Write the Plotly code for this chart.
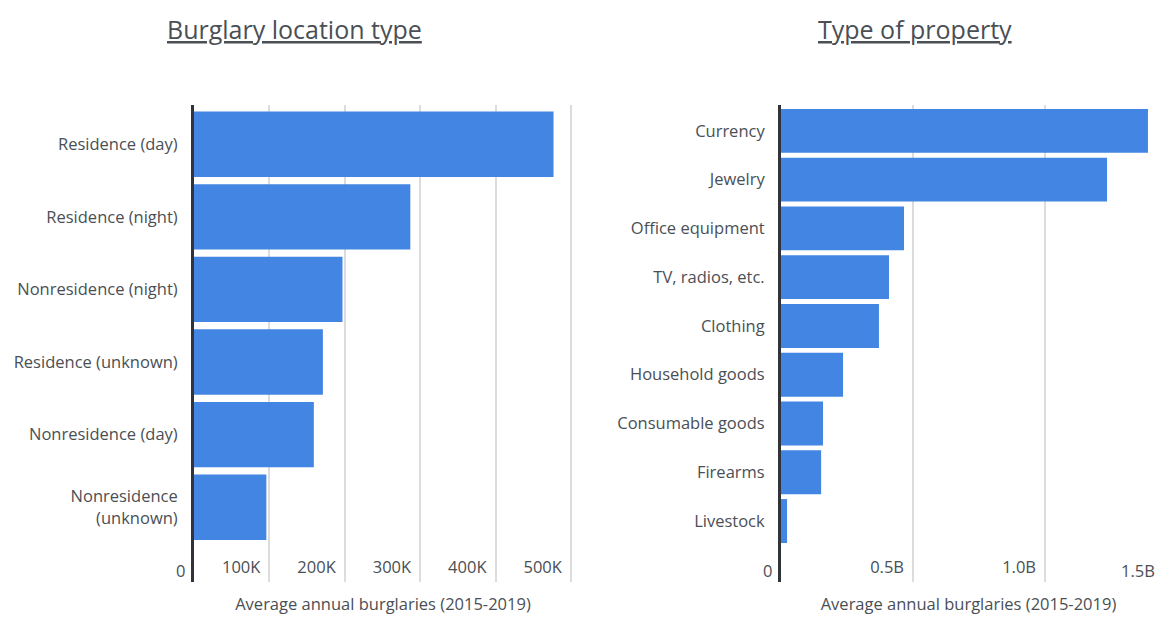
import plotly.graph_objects as go

loc_categories = ["Residence (day)", "Residence (night)", "Nonresidence (night)",
                  "Residence (unknown)", "Nonresidence (day)", "Nonresidence<br>(unknown)"]
loc_values = [477000, 287000, 197000, 171000, 159000, 96000]
loc_tickvals = [0, 100000, 200000, 300000, 400000, 500000]
loc_ticktext = ["0", "100K", "200K", "300K", "400K", "500K"]

prop_categories = ["Currency", "Jewelry", "Office equipment", "TV, radios, etc.", "Clothing",
                   "Household goods", "Consumable goods", "Firearms", "Livestock"]
prop_values = [1.39e9, 1.235e9, 0.466e9, 0.409e9, 0.371e9, 0.235e9, 0.159e9, 0.152e9, 0.023e9]
prop_tickvals = [0, 0.5e9, 1.0e9, 1.5e9]
prop_ticktext = ["0", "0.5B", "1.0B", "1.5B"]

titles = ["Burglary location type", "Type of property"]
x_title = "Average annual burglaries (2015-2019)"

OFF = 8  # page body margin
W, H = 1164 - 2 * OFF, 639 - 2 * OFF
BLUE = "#4285e2"
TXT = "#4a4f55"
FONT = "Open Sans"


def px(x):
    return (x - OFF) / W


def py(y):
    return 1 - (y - OFF) / H


fig = go.Figure()
fig.add_trace(go.Bar(x=loc_values, y=list(range(len(loc_values))), orientation="h",
                     marker=dict(color=BLUE, line=dict(width=0)), xaxis="x", yaxis="y",
                     hoverinfo="x"))
fig.add_trace(go.Bar(x=prop_values, y=list(range(len(prop_values))), orientation="h",
                     marker=dict(color=BLUE, line=dict(width=0)), xaxis="x2", yaxis="y2",
                     hoverinfo="x"))

y0, y1 = py(582), py(105)

common_x = dict(showgrid=True, gridcolor="#dcdcdc", gridwidth=1.5, zeroline=False,
                showline=False, ticks="", ticklabelposition="inside left", ticklabelshift=-9,
                tickfont=dict(family=FONT, size=16.5, color=TXT),
                title=dict(text=x_title, font=dict(family=FONT, size=16.5, color=TXT), standoff=21))
common_y = dict(showgrid=False, zeroline=False, showline=True, linecolor="#30343a", linewidth=3,
                ticks="outside", ticklen=10, tickcolor="rgba(0,0,0,0)",
                tickfont=dict(family=FONT, size=16.5, color=TXT), domain=[y0, y1])

# right panel: 264 px per billion, axis at x=781, panel ends at the figure's right edge
right_px = OFF + W
prop_range_max = (right_px - 781) / 264 * 1e9

fig.update_layout(
    width=W, height=H, margin=dict(l=0, r=0, t=0, b=0),
    paper_bgcolor="white", plot_bgcolor="white", showlegend=False, bargap=0.1,
    xaxis=dict(common_x, domain=[px(194), px(572)], range=[0, 501500],
               tickvals=loc_tickvals, ticktext=loc_ticktext, anchor="y"),
    yaxis=dict(common_y, anchor="x", tickvals=list(range(len(loc_categories))),
               ticktext=loc_categories, range=[5.5 + 0.53, -0.5 - 0.04]),
    xaxis2=dict(common_x, domain=[px(781), 1.0], range=[0, prop_range_max],
                tickvals=prop_tickvals, ticktext=prop_ticktext, anchor="y2"),
    yaxis2=dict(common_y, anchor="x2", tickvals=list(range(len(prop_categories))),
                ticktext=prop_categories, range=[8.5 + 0.75, -0.5 - 0.03]),
)

for t, xc in zip(titles, [294, 915]):
    fig.add_annotation(text="<u>" + t + "</u>", x=px(xc), y=py(29), xref="paper", yref="paper",
                       showarrow=False, font=dict(family=FONT, size=25, color=TXT),
                       xanchor="center", yanchor="middle")

# "0" labels left of the axes and the last tick label that falls at the right edge
for txt, xr in [(loc_ticktext[0], 186), (prop_ticktext[0], 773), (prop_ticktext[-1], right_px)]:
    fig.add_annotation(text=txt, x=px(xr), y=py(570), xref="paper", yref="paper",
                       showarrow=False, font=dict(family=FONT, size=16.5, color=TXT),
                       xanchor="right", yanchor="middle", borderpad=0)

fig.write_html("out.html")
